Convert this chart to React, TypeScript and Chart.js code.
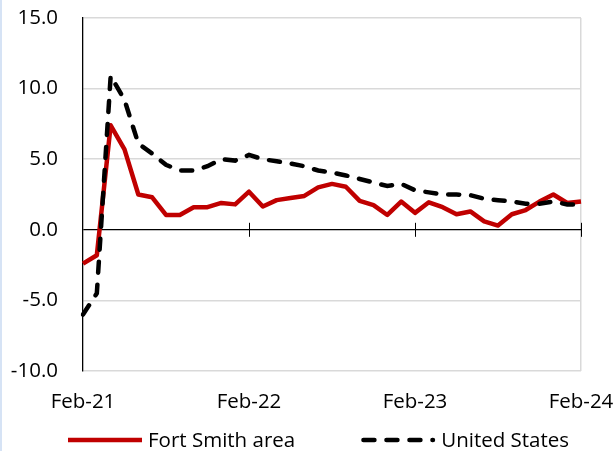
import React, { useEffect, useRef } from "react";
import { Chart, registerables } from "chart.js";
Chart.register(...registerables);

const months = [
  "Feb-21", "Mar-21", "Apr-21", "May-21", "Jun-21", "Jul-21", "Aug-21", "Sep-21", "Oct-21", "Nov-21", "Dec-21", "Jan-22",
  "Feb-22", "Mar-22", "Apr-22", "May-22", "Jun-22", "Jul-22", "Aug-22", "Sep-22", "Oct-22", "Nov-22", "Dec-22", "Jan-23",
  "Feb-23", "Mar-23", "Apr-23", "May-23", "Jun-23", "Jul-23", "Aug-23", "Sep-23", "Oct-23", "Nov-23", "Dec-23", "Jan-24",
  "Feb-24",
];
const shownLabels = ["Feb-21", "Feb-22", "Feb-23", "Feb-24"];

const fortSmith = [
  -2.4, -1.8, 7.4, 5.7, 2.5, 2.3, 1.05, 1.05, 1.6, 1.6, 1.9, 1.8,
  2.7, 1.65, 2.1, 2.25, 2.4, 3.0, 3.25, 3.05, 2.05, 1.75, 1.05, 2.0,
  1.2, 1.95, 1.6, 1.1, 1.3, 0.6, 0.3, 1.1, 1.4, 2.0, 2.5, 1.9,
  2.0,
];
const unitedStates = [
  -6.0, -4.5, 10.9, 9.2, 6.1, 5.4, 4.6, 4.2, 4.2, 4.5, 5.0, 4.9,
  5.3, 5.0, 4.85, 4.7, 4.5, 4.2, 4.05, 3.85, 3.6, 3.35, 3.1, 3.25,
  2.8, 2.65, 2.5, 2.5, 2.45, 2.2, 2.1, 2.0, 1.85, 1.85, 2.0, 1.8,
  1.8,
];

const seriesNames = ["Fort Smith area", "United States"];
const yMin = -10;
const yMax = 15;
const yStep = 5;

const FONT = "'Open Sans'";
const FONT_SIZE = 20.5;

const zeroTicksPlugin = {
  id: "zeroTicks",
  beforeDatasetsDraw(chart: any) {
    const { ctx, scales } = chart;
    const x = scales.x;
    const y = scales.y;
    const y0 = y.getPixelForValue(0);
    ctx.save();
    ctx.strokeStyle = "#000";
    ctx.lineWidth = 1;
    months.forEach((m, i) => {
      if (shownLabels.includes(m) && i > 0) {
        const px = Math.round(x.getPixelForValue(i)) + 0.5;
        ctx.beginPath();
        ctx.moveTo(px, y0 - 7);
        ctx.lineTo(px, y0 + 7);
        ctx.stroke();
      }
    });
    ctx.restore();
  },
};

const legendPlugin = {
  id: "customLegend",
  afterDraw(chart: any) {
    const { ctx } = chart;
    const datasets = chart.data.datasets;
    ctx.save();
    ctx.font = `${FONT_SIZE}px ${FONT}`;
    const lineLen = 74;
    const gap = 6;
    const spacing = 66;
    let x = 68;
    const y = 440;
    datasets.forEach((d: any) => {
      ctx.beginPath();
      ctx.strokeStyle = d.borderColor;
      ctx.lineWidth = d.borderWidth;
      ctx.lineCap = d.borderCapStyle || "butt";
      ctx.setLineDash(d.borderDash || []);
      const inset = d.borderCapStyle === "round" ? d.borderWidth / 2 : 0;
      ctx.moveTo(x + inset, y);
      ctx.lineTo(x + lineLen - inset, y);
      ctx.stroke();
      ctx.setLineDash([]);
      ctx.fillStyle = "#000";
      ctx.textAlign = "left";
      ctx.textBaseline = "middle";
      ctx.fillText(d.label, x + lineLen + gap, y + 1);
      x += lineLen + gap + ctx.measureText(d.label).width + spacing;
    });
    ctx.restore();
  },
};

export default function App() {
  const ref = useRef<HTMLCanvasElement | null>(null);

  useEffect(() => {
    if (!ref.current) return;
    const chart = new Chart(ref.current, {
      type: "line",
      data: {
        labels: months,
        datasets: [
          {
            label: seriesNames[0],
            data: fortSmith,
            borderColor: "#C00000",
            borderWidth: 4.5,
            pointRadius: 0,
            tension: 0,
            borderJoinStyle: "round",
            order: 2,
          } as any,
          {
            label: seriesNames[1],
            data: unitedStates,
            borderColor: "#000000",
            borderWidth: 4.5,
            borderDash: [11, 12],
            borderCapStyle: "round",
            pointRadius: 0,
            tension: 0,
            order: 1,
          } as any,
        ],
      },
      options: {
        responsive: false,
        animation: false,
        layout: { padding: { left: 0, right: 35, top: 18, bottom: 0 } },
        plugins: {
          legend: { display: false },
          tooltip: { enabled: false },
        },
        scales: {
          x: {
            type: "category",
            offset: false,
            afterFit: (s: any) => {
              s.height = 80;
              s.paddingLeft = 0;
              s.paddingRight = 0;
            },
            grid: {
              drawTicks: false,
              color: (c: any) => (c.index === months.length - 1 ? "#d9d9d9" : "rgba(0,0,0,0)"),
              lineWidth: 1.5,
            },
            border: { display: false },
            ticks: {
              autoSkip: false,
              maxRotation: 0,
              padding: 19,
              color: "#000",
              font: { family: FONT, size: FONT_SIZE },
              callback: (_v: any, i: number) => (shownLabels.includes(months[i]) ? months[i] : ""),
            },
          },
          y: {
            min: yMin,
            max: yMax,
            afterFit: (s: any) => {
              s.width = 83;
              s.paddingTop = 0;
              s.paddingBottom = 0;
            },
            grid: {
              drawTicks: false,
              color: (c: any) => (c.tick && c.tick.value === 0 ? "#000000" : "#d9d9d9"),
              lineWidth: (c: any) => (c.tick && c.tick.value === 0 ? 1.3 : 1.5),
            },
            border: { display: true, color: "#000", width: 1.3 },
            ticks: {
              stepSize: yStep,
              padding: 25,
              color: "#000",
              font: { family: FONT, size: FONT_SIZE },
              callback: (v: any) => Number(v).toFixed(1),
            },
          },
        },
      },
      plugins: [zeroTicksPlugin, legendPlugin],
    });
    return () => chart.destroy();
  }, []);

  return (
    <div style={{ position: "fixed", left: 0, top: 0, width: 616, height: 451, background: "#fff" }}>
      <div style={{ position: "absolute", left: 0, top: 0, width: 2, height: 451, background: "#d6e3f5" }} />
      <canvas ref={ref} width={616} height={451} style={{ display: "block", width: 616, height: 451 }} />
    </div>
  );
}
